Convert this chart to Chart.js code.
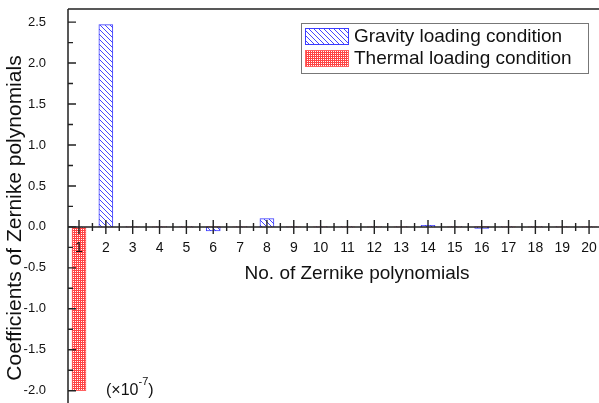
<!DOCTYPE html>
<html>
<head>
<meta charset="utf-8">
<script src="https://cdn.jsdelivr.net/npm/chart.js@4.4.0/dist/chart.umd.min.js"></script>
<style>
	html, body { margin: 0; padding: 0; background: #fff; overflow: hidden; }
	#chart { display: block; }
</style>
</head>
<body>
<canvas id="chart" width="599" height="403"></canvas>
<script>
const categories = [1, 2, 3, 4, 5, 6, 7, 8, 9, 10, 11, 12, 13, 14, 15, 16, 17, 18, 19, 20];
const gravity = [0, 2.47, 0, 0, 0, -0.05, 0, 0.1, 0, 0, 0, 0, 0, 0.02, 0, -0.02, 0, 0, 0, 0];
const thermal = [-2.0, 0, 0, 0, 0, 0, 0, 0, 0, 0, 0, 0, 0, 0, 0, 0, 0, 0, 0, 0];
const yTicks = [-2.0, -1.5, -1.0, -0.5, 0.0, 0.5, 1.0, 1.5, 2.0, 2.5];
const seriesNames = ["Gravity loading condition", "Thermal loading condition"];
const xTitle = "No. of Zernike polynomials";
const yTitle = "Coefficients of Zernike polynomials";

const FONT = "'Liberation Sans', Arial, sans-serif";

function hatchPattern() {
	const n = 5;
	const c = document.createElement("canvas");
	c.width = n; c.height = n;
	const g = c.getContext("2d");
	g.fillStyle = "#fff";
	g.fillRect(0, 0, n, n);
	g.strokeStyle = "#4646ff";
	g.lineWidth = 1;
	g.beginPath();
	g.moveTo(-1, -1); g.lineTo(n + 1, n + 1);
	g.moveTo(-1, n - 1); g.lineTo(1, n + 1);
	g.moveTo(n - 1, -1); g.lineTo(n + 1, 1);
	g.stroke();
	return g.createPattern(c, "repeat");
}

function meshPattern() {
	const c = document.createElement("canvas");
	c.width = 4; c.height = 4;
	const g = c.getContext("2d");
	g.fillStyle = "#ff4444";
	g.fillRect(0, 0, 4, 4);
	g.fillStyle = "#fff";
	g.fillRect(1, 1, 1, 1);
	g.fillRect(3, 1, 1, 1);
	g.fillRect(1, 3, 1, 1);
	g.fillRect(3, 3, 1, 1);
	return g.createPattern(c, "repeat");
}

const toPoints = (vals) => categories.map((c, i) => ({ x: c, y: vals[i] }));
const edge = (ctx) => (ctx.raw && ctx.raw.y !== 0 ? 1 : 0);

const decor = {
	id: "decor",
	afterDatasetsDraw(chart) {
		const { ctx, chartArea: a, scales: { x, y } } = chart;
		const y0 = y.getPixelForValue(0);
		ctx.save();
		ctx.strokeStyle = "#222";
		ctx.lineWidth = 1.5;
		ctx.beginPath();
		// frame top + left axis + zero line
		ctx.moveTo(a.left, a.top); ctx.lineTo(a.right, a.top);
		ctx.moveTo(a.left, a.top); ctx.lineTo(a.left, a.bottom);
		ctx.moveTo(a.left, y0); ctx.lineTo(a.right, y0);
		ctx.stroke();

		ctx.lineWidth = 1.4;
		ctx.beginPath();
		categories.forEach((c) => {
			const px = x.getPixelForValue(c);
			ctx.moveTo(px, y0 - 7); ctx.lineTo(px, y0 + 7);
			[c - 0.5, c + 0.5].forEach((m) => {
				if (m < x.min || m > x.max || (m === c - 0.5 && c > 1)) return;
				const mx = x.getPixelForValue(m);
				ctx.moveTo(mx, y0 - 4); ctx.lineTo(mx, y0 + 4);
			});
		});
		yTicks.forEach((v) => {
			const py = y.getPixelForValue(v);
			ctx.moveTo(a.left, py); ctx.lineTo(a.left + 8, py);
			const m = v + 0.25;
			if (m < y.max) {
				const my = y.getPixelForValue(m);
				ctx.moveTo(a.left, my); ctx.lineTo(a.left + 5, my);
			}
		});
		ctx.stroke();
		ctx.restore();
	},
	afterDraw(chart) {
		const { ctx, scales: { y } } = chart;
		ctx.save();
		ctx.fillStyle = "#111";

		// axis titles
		ctx.font = "19px " + FONT;
		ctx.textAlign = "center";
		ctx.textBaseline = "middle";
		ctx.fillText(xTitle, 357, y.getPixelForValue(0) + 47);

		ctx.save();
		ctx.translate(15, 218);
		ctx.rotate(-Math.PI / 2);
		ctx.font = "21px " + FONT;
		ctx.fillText(yTitle, 0, 0);
		ctx.restore();

		// scale note
		ctx.textAlign = "left";
		ctx.textBaseline = "alphabetic";
		ctx.font = "16px " + FONT;
		ctx.fillText("(\u00d710", 106, 395);
		const w1 = ctx.measureText("(\u00d710").width;
		ctx.font = "11px " + FONT;
		ctx.fillText("-7", 106 + w1, 385);
		const w2 = ctx.measureText("-7").width;
		ctx.font = "16px " + FONT;
		ctx.fillText(")", 106 + w1 + w2, 395);

		// legend
		const lx = 301, ly = 23, lw = 287, lh = 50;
		ctx.fillStyle = "#fff";
		ctx.fillRect(lx, ly, lw, lh);
		ctx.strokeStyle = "#777";
		ctx.lineWidth = 1;
		ctx.strokeRect(lx + 0.5, ly + 0.5, lw, lh);
		chart.data.datasets.forEach((ds, i) => {
			const ry = ly + 5 + i * 22;
			ctx.fillStyle = ds.backgroundColor;
			ctx.fillRect(305, ry, 44, 17);
			ctx.strokeStyle = ds.borderColor;
			ctx.strokeRect(305.5, ry + 0.5, 43, 16);
			ctx.fillStyle = "#111";
			ctx.font = "19px " + FONT;
			ctx.textBaseline = "middle";
			ctx.fillText(ds.label, 354, ry + 9);
		});
		ctx.restore();
	}
};

const config = {
	type: "bar",
	data: {
		datasets: [
			{
				label: seriesNames[0],
				data: toPoints(gravity),
				backgroundColor: hatchPattern(),
				borderColor: "#3c3cff",
				borderWidth: edge,
			},
			{
				label: seriesNames[1],
				data: toPoints(thermal),
				backgroundColor: meshPattern(),
				borderColor: "#ff6060",
				borderWidth: edge,
			},
		],
	},
	options: {
		responsive: false,
		animation: false,
		devicePixelRatio: 1,
		layout: { padding: { top: 9, right: 0, bottom: 0, left: 0 } },
		datasets: { bar: { grouped: false, barThickness: 14 } },
		plugins: {
			legend: { display: false },
			tooltip: { enabled: false },
		},
		scales: {
			x: {
				type: "linear",
				offset: false,
				position: { y: 0 },
				min: 0.59,
				max: 20.37,
				afterBuildTicks: (s) => { s.ticks = categories.map((v) => ({ value: v })); },
				afterFit: (s) => { s.paddingLeft = 0; s.paddingRight = 0; },
				grid: { display: false },
				border: { display: false },
				ticks: {
					z: 1,
					padding: 5,
					color: "#111",
					autoSkip: false,
					maxRotation: 0,
					font: { family: FONT, size: 14 },
					callback: (v) => String(v),
				},
			},
			y: {
				min: -2.15,
				max: 2.66,
				afterBuildTicks: (s) => { s.ticks = yTicks.map((v) => ({ value: v })); },
				afterFit: (s) => { s.width = 68; s.paddingTop = 0; s.paddingBottom = 0; },
				grid: { display: false },
				border: { display: false },
				ticks: {
					padding: 14,
					color: "#111",
					font: { family: FONT, size: 13 },
					callback: (v) => v.toFixed(1),
				},
			},
		},
	},
	plugins: [decor],
};

const chart = new Chart(document.getElementById("chart"), config);
</script>
</body>
</html>
